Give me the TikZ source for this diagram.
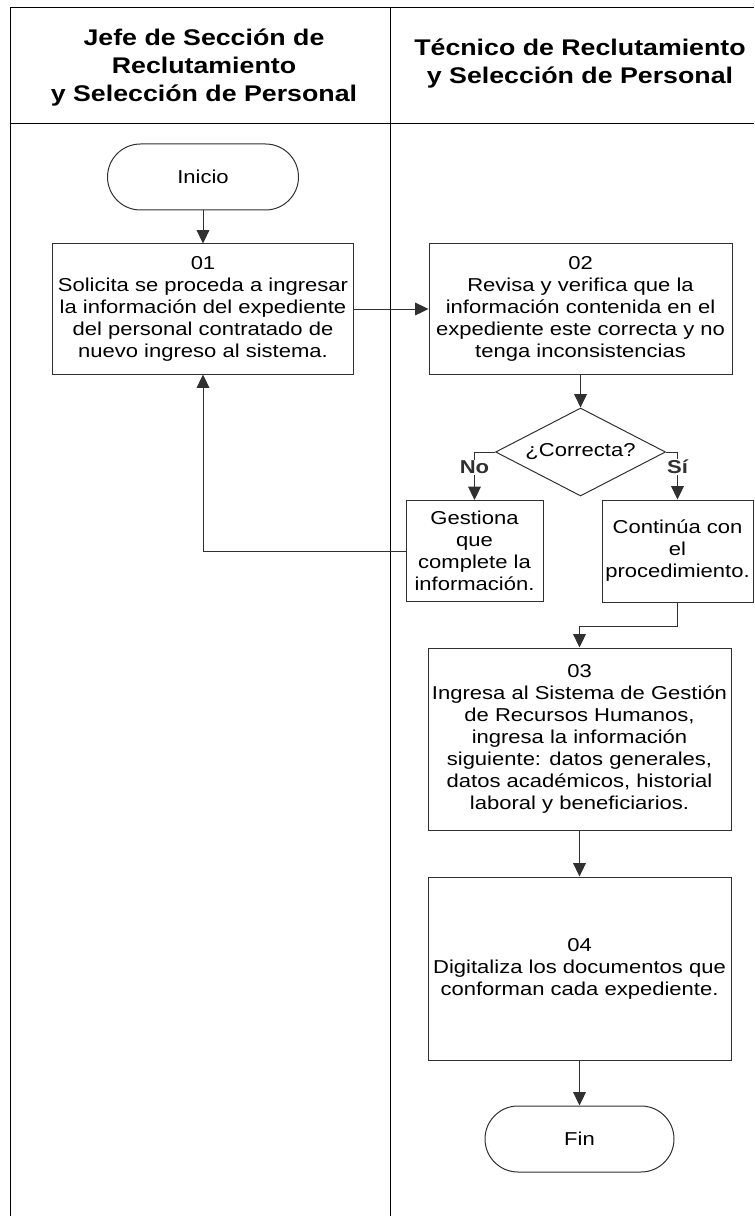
\documentclass[tikz,border=0pt]{standalone}
\usepackage{fontspec}
\setmainfont{Liberation Sans}[FakeStretch=1.18]
\usepackage{tikz}
\usetikzlibrary{arrows.meta,positioning,shapes.geometric}
\definecolor{linegray}{HTML}{303030}

\begin{document}
\begin{tikzpicture}[x=0.75pt, y=-0.75pt,
  lane/.style={align=center, font=\fontsize{17}{21}\selectfont\bfseries},
  proc/.style={draw=linegray, line width=0.75pt, minimum width=227.25pt, minimum height=97.5pt, inner sep=0pt, align=center, font=\fontsize{14}{16.5}\selectfont},
  term/.style={draw=linegray, line width=0.75pt, rounded corners=24.75pt, minimum width=143.25pt, minimum height=49.5pt, font=\fontsize{14}{16.5}\selectfont},
  decision/.style={draw=linegray, line width=0.75pt, diamond, aspect=3.4, minimum width=127.5pt, minimum height=66pt, inner sep=0pt, font=\fontsize{14}{16.5}\selectfont},
  lbl/.style={fill=white, inner sep=1pt, font=\fontsize{14}{16.5}\selectfont\bfseries},
  arr/.style={-{Triangle[length=10pt, width=9.5pt]}, line width=0.75pt, linegray}
]
  \useasboundingbox (0,0) rectangle (754,1216);

  % swimlanes
  \draw[line width=0.75pt] (10,1216) -- (10,8) -- (754,8);
  \draw[line width=0.75pt] (10,124) -- (754,124);
  \draw[line width=0.75pt] (390,8) -- (390,1216);
  \node[lane] (jefe) at (204,68) {Jefe de Sección de\\Reclutamiento\\y Selección de Personal};
  \node[lane] (tecnico) at (580,64) {Técnico de Reclutamiento\\y Selección de Personal};

  \node[term] (inicio) at (203,177) {Inicio};
  \node[proc, minimum width=225.75pt, below=24.75pt of inicio] (p01) {01\\Solicita se proceda a ingresar\\la información del expediente\\del personal contratado de\\nuevo ingreso al sistema.};
  \node[proc, right=55.9pt of p01] (p02) {02\\Revisa y verifica que la\\información contenida en el\\expediente este correcta y no\\tenga inconsistencias};
  \node[decision, below=24.75pt of p02] (correcta) {¿Correcta?};
  \node[proc, minimum width=102.75pt, minimum height=75.75pt] (gestiona) at (474.5,551) {Gestiona\\que\\complete la\\información.};
  \node[proc, minimum width=113.25pt, minimum height=76.5pt] (continua) at (677.5,551) {Continúa con\\el\\procedimiento.};
  \node[proc, minimum height=136.5pt] (p03) at (579.5,739) {03\\Ingresa al Sistema de Gestión\\de Recursos Humanos,\\ingresa la información\\siguiente: datos generales,\\datos académicos, historial\\laboral y beneficiarios.};
  \node[proc, minimum height=137.25pt, below=34.5pt of p03] (p04) {04\\Digitaliza los documentos que\\conforman cada  expediente.};
  \node[term, minimum width=141.75pt, below=33.75pt of p04] (fin) {Fin};

  \draw[arr] (inicio) -- (p01);
  \draw[arr] (p01) -- (p02);
  \draw[arr] (p02) -- (correcta);
  \draw[arr] (correcta.west) -| node[lbl, pos=0.66] {No} (gestiona.north);
  \draw[arr] (correcta.east) -| node[lbl, pos=0.66] {Sí} (continua.north);
  \draw[arr] (gestiona.west) -| (p01.south);
  \draw[arr] (continua.south) -- ++(0,24) -| (p03.north);
  \draw[arr] (p03) -- (p04);
  \draw[arr] (p04) -- (fin);
\end{tikzpicture}
\end{document}
